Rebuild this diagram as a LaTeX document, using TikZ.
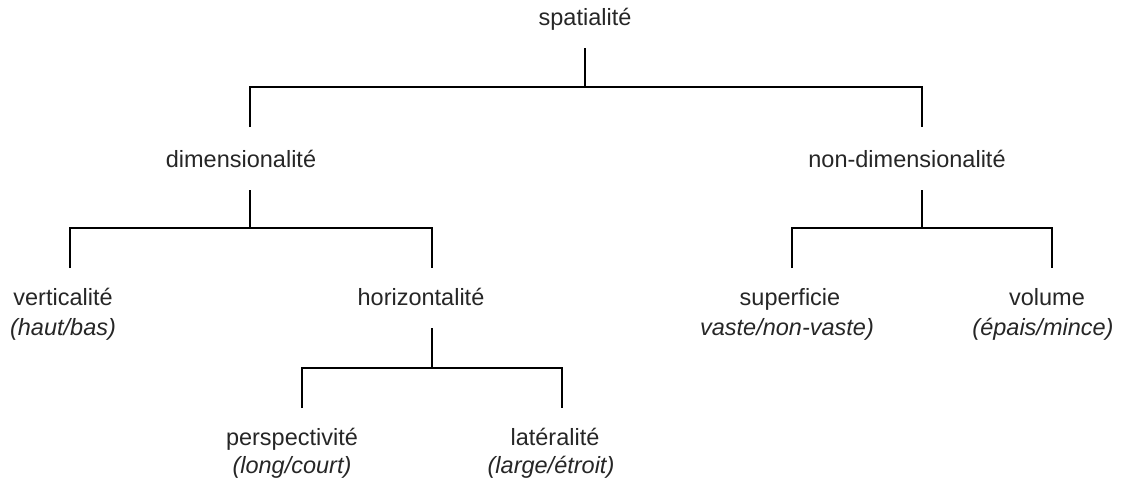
\documentclass[tikz,border=0pt]{standalone}
\usepackage{fontspec}
\setmainfont{Liberation Sans}
\begin{document}
\begin{tikzpicture}[x=1pt,y=-1pt,
  lbl/.style={font=\fontsize{23.5}{28}\selectfont, inner sep=0pt, text=black!85, text height=17.5pt, text depth=5pt},
  sub/.style={lbl, font=\fontsize{23.5}{28}\selectfont\itshape},
  stem/.style={line width=1.6pt},
  bar/.style={line width=1.1pt}]
\useasboundingbox (0,0) rectangle (1122,483);
% labels
\node[lbl] (sp) at (585,19) {spatialité};
\node[lbl] (dim) at (241,161) {dimensionalité};
\node[lbl] (ndim) at (907,161) {non-dimensionalité};
\node[lbl] (vert) at (63,299) {verticalité};
\node[sub] (vertS) at (63,329) {(haut/bas)};
\node[lbl] (hor) at (421,299) {horizontalité};
\node[lbl] (sup) at (790,299) {superficie};
\node[sub] (supS) at (787,329) {vaste/non-vaste)};
\node[lbl] (vol) at (1047,299) {volume};
\node[sub] (volS) at (1043,329) {(épais/mince)};
\node[lbl] (per) at (292,439) {perspectivité};
\node[sub] (perS) at (292,467) {(long/court)};
\node[lbl] (lat) at (555,439) {latéralité};
\node[sub] (latS) at (551,467) {(large/étroit)};
% junction coordinates
\coordinate (s0) at (585,48);  \coordinate (j0) at (585,87);
\coordinate (a0) at (250,87);  \coordinate (a1) at (250,127);
\coordinate (b0) at (922,87);  \coordinate (b1) at (922,127);
\coordinate (s1) at (250,190); \coordinate (j1) at (250,228);
\coordinate (c0) at (70,228);  \coordinate (c1) at (70,268);
\coordinate (d0) at (432,228); \coordinate (d1) at (432,268);
\coordinate (s2) at (922,190); \coordinate (j2) at (922,228);
\coordinate (e0) at (792,228); \coordinate (e1) at (792,268);
\coordinate (f0) at (1052,228);\coordinate (f1) at (1052,268);
\coordinate (s3) at (432,328); \coordinate (j3) at (432,368);
\coordinate (g0) at (302,368); \coordinate (g1) at (302,408);
\coordinate (h0) at (562,368); \coordinate (h1) at (562,408);
% connectors
\draw[stem] (s0) -- (j0);
\draw[bar] (a1) -- (a0) -- (b0) -- (b1);
\draw[stem] (s1) -- (j1);
\draw[bar] (c1) -- (c0) -- (d0) -- (d1);
\draw[stem] (s2) -- (j2);
\draw[bar] (e1) -- (e0) -- (f0) -- (f1);
\draw[stem] (s3) -- (j3);
\draw[bar] (g1) -- (g0) -- (h0) -- (h1);
\end{tikzpicture}
\end{document}
